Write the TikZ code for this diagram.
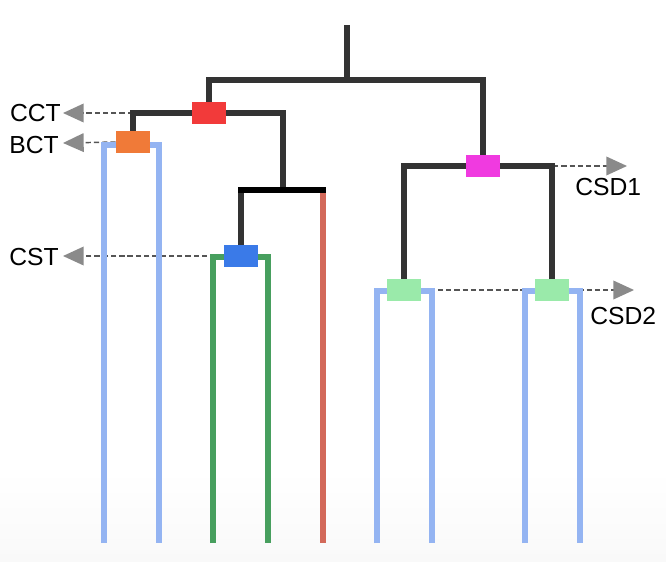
\documentclass[tikz,border=0pt]{standalone}
\usepackage{fontspec}
\setmainfont{Liberation Sans}
\usetikzlibrary{arrows.meta}
\definecolor{treegray}{HTML}{333333}
\definecolor{leafblue}{HTML}{94B4F2}
\definecolor{leafgreen}{HTML}{479F5E}
\definecolor{leafred}{HTML}{D3695A}
\definecolor{boxred}{HTML}{F23A3A}
\definecolor{boxorange}{HTML}{F07A38}
\definecolor{boxblue}{HTML}{3A7AE8}
\definecolor{boxmag}{HTML}{F03AE0}
\definecolor{boxgreen}{HTML}{9AEAAA}
\definecolor{dashgray}{HTML}{555555}
\definecolor{tipgray}{HTML}{8A8A8A}
\definecolor{bgbottom}{HTML}{F9F9F9}
\tikzset{
  tree/.style={draw=treegray, line width=4.4pt},
  bar/.style={draw=black, line width=4.8pt, line cap=rect},
  leafline/.style={line width=4.1pt},
  boxnode/.style={rectangle, inner sep=0pt, minimum width=25.5pt, minimum height=16.5pt, draw=white, line width=0.4pt},
  ptr/.style={draw=dashgray, line width=1.1pt, dash pattern=on 4pt off 2.2pt,
    -{Triangle[length=15.5pt,width=14pt,color=tipgray]}},
  lab/.style={font=\fontsize{18.5}{20}\selectfont, inner sep=0pt}
}
\begin{document}
\begin{tikzpicture}[x=0.75pt,y=-0.75pt]
\useasboundingbox (0,0) rectangle (666,561);
\shade[top color=white, bottom color=bgbottom] (0,470) rectangle (666,561);

% boxes (positions)
\node[boxnode, fill=boxred] (r) at (209,113) {};
\node[boxnode, fill=boxorange] (o) at (133,142) {};
\node[boxnode, fill=boxblue] (b) at (241,256) {};
\node[boxnode, fill=boxmag] (m) at (483,166) {};
\node[boxnode, fill=boxgreen] (g1) at (404,290) {};
\node[boxnode, fill=boxgreen] (g2) at (552,290) {};

% coordinates
\coordinate (top) at (347,25);
\coordinate (rootj) at (347,80);
\coordinate (c2) at (283,190);
\coordinate (redtop) at (323,190);
\coordinate (redbot) at (323,543);
\coordinate (cctstart) at (133,113);
\coordinate (csd1start) at (553,166);
\coordinate (tcct) at (63,113);
\coordinate (tbct) at (63,143);
\coordinate (tcst) at (63,256);
\coordinate (tcsd1) at (627,166);
\coordinate (tcsd2) at (634,290);

% dashed pointers
\draw[ptr] (cctstart) -- (tcct);
\draw[ptr] (o.west) -- (tbct);
\draw[ptr] (b.west) -- (tcst);
\draw[ptr] (csd1start) -- (tcsd1);
\draw[ptr] (g1.east) -- (tcsd2);

% labels
\node[lab, anchor=east] (lcct) at (61,113) {CCT};
\node[lab, anchor=east] (lbct) at (59,145) {BCT};
\node[lab, anchor=east] (lcst) at (59,257) {CST};
\node[lab, anchor=west] (lcsd1) at (575,187) {CSD1};
\node[lab, anchor=west] (lcsd2) at (590,316) {CSD2};

% leaves
\draw[leafline, draw=leafblue] (104,543) -- (104,145) -- (159,145) -- (159,543);
\draw[leafline, draw=leafgreen] (213,543) -- (213,257) -- (268,257) -- (268,543);
\draw[leafline, draw=leafred] (redtop) -- (redbot);
\draw[leafline, draw=leafblue] (377,543) -- (377,291) -- (432,291) -- (432,543);
\draw[leafline, draw=leafblue] (525,543) -- (525,291) -- (580,291) -- (580,543);

% tree
\draw[tree] (top) -- (rootj);
\draw[tree] (r.north) |- (rootj) -| (m.north);
\draw[tree] (r.west) -| (o.north);
\draw[tree] (r.east) -| (c2);
\draw[tree] (b.north) -- (b.north |- c2);
\draw[bar] (b.north |- c2) -- (redtop);
\draw[tree] (g1.north) |- (m.west);
\draw[tree] (g2.north) |- (m.east);

% redraw boxes on top
\foreach \n/\c in {r/boxred,o/boxorange,b/boxblue,m/boxmag,g1/boxgreen,g2/boxgreen}{
  \fill[\c] (\n.south west) rectangle (\n.north east);
}
\end{tikzpicture}
\end{document}
